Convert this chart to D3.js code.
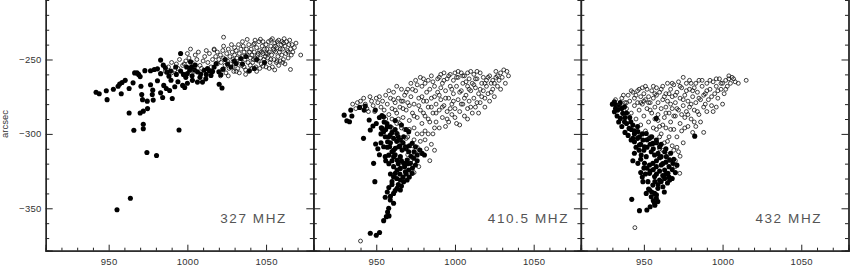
<!DOCTYPE html>
<html>
<head>
<meta charset="utf-8">
<script src="https://cdn.jsdelivr.net/npm/d3@7"></script>
<style>
  body { margin: 0; background: #fff; }
  svg { display: block; }
  text { font-family: "Liberation Sans", Arial, Helvetica, sans-serif; }
</style>
</head>
<body>
<div id="chart"></div>
<script>
// three frequency panels, position of sources (x, y in arcsec)
const panelLabels = ['327 MHZ', '410.5 MHZ', '432 MHZ'];
const xMajor = [950, 1000, 1050];
const xMinor = [920, 930, 940, 960, 970, 980, 990, 1010, 1020, 1030, 1040, 1060, 1070];
const yMajor = [-350, -300, -250];
const yMinor = [-370, -360, -340, -330, -320, -310, -290, -280, -270, -260, -240, -230, -220, -210];
const yLabel = 'arcsec';

// 327 MHz
const filled327 = [[942,-272],[944,-273],[948.5,-271],[949,-277],[953,-270],[956,-268],[957,-266.5],[958.5,-265.5],[960.5,-264],[958,-273],
  [963,-269.5],[965.5,-265.7],[963,-286],[966,-297.5],[966.5,-259],[968,-259],[969,-260],[970,-261.5],[973,-257.5],[970.5,-268],
  [971,-273.5],[971.5,-277],[970,-286],[972,-284.7],[974.7,-283],[974.5,-278],[972,-293.5],[972,-296.5],[974.3,-312.5],[980.4,-314.5],
  [963.8,-343.3],[955.3,-351],[976.6,-267],[978,-270.6],[977.7,-273.5],[978.3,-277.3],[983,-272.4],[984.3,-275.5],[981,-264.3],[979,-256.7],
  [981,-256.3],[983,-250.4],[984.7,-253.8],[986,-255.6],[985,-267.4],[986.6,-269.5],[988.7,-270.8],[990.4,-276.2],[988.3,-261.2],[989.6,-263.9],
  [992,-268.3],[994.7,-297.4],[995.7,-246],[994,-265],[997,-267.4],[998.3,-268.8],[999,-262],[1000,-259.4],[1001.5,-257.2],[1002.6,-255],
  [1005,-253.8],[1006.4,-258.3],[1008.5,-259.8],[1010.6,-257.2],[1012.8,-256],[1015,-260.7],[1017,-255],[1018.3,-252.7],[1006.4,-265.2],[1009.6,-265.2],
  [1011.7,-263],[1014,-257.6],[1020,-258.3],[1021.3,-260.3],[1022,-269.2],[1020.2,-266.6],[1025.5,-253],[1029.8,-251],[1034,-249.3],[1039.4,-257.6],
  [1042.6,-256],[1037.2,-248],[1000,-266],[1003.2,-264],[1002,-251.6],[992.6,-255],[989.4,-257.8],[995.7,-257.8],[976.6,-257.6],[1027.7,-255],
  [1031,-252.7],[997.5,-260],[1003,-261],[1008,-262],[1012,-260],[1016,-258],[999.5,-255],[1004.5,-257],[993,-260],[983,-259.5],
  [987,-258.5],[1022.7,-256.5],[1024,-250],[1035,-253],[1044,-250],[1049,-252]];
const open327 = [[986,-258],[988,-255],[990,-252],[993,-253],[995,-250],[997,-254],[999,-251],[992,-257],[990,-259],[994,-256],
  [998,-253],[1000,-246],[1002,-243],[1001,-249],[1003,-252],[1005,-247],[1006,-250],[1008,-254],[1010,-251],[1011,-248],
  [1013,-252],[1014,-246],[1016,-250],[1017,-243],[1018,-248],[1019,-253],[1020,-250],[1004,-258],[1009,-256],[1015,-255],
  [1012,-244],[1007,-245],[1019,-245],[1023,-235],[1023,-241],[1017,-243.5],
  [1021,-247],[1021.5,-252],[1022,-257],[1022.5,-244],[1023,-249],[1024,-254],[1024.5,-259],[1025,-246],[1025.5,-251],[1026,-243],
  [1026.5,-256],[1027,-248],[1027.5,-253],[1028,-240],[1028.5,-245],[1029,-250],[1029.5,-258],[1030,-247],[1030,-242],[1021,-261],
  [1026,-261],[1029,-255],
  [1030.5,-252],[1031,-244],[1031.5,-249],[1032,-256],[1032.5,-240],[1033,-246],[1033.5,-251],[1034,-243],[1034.5,-254],[1035,-248],
  [1035.5,-241],[1036,-245],[1036.5,-250],[1037,-257],[1037.5,-243],[1038,-247],[1038.5,-252],[1039,-240],[1039.5,-245],[1040,-249],
  [1031,-258],[1033,-259],[1035,-238],[1036,-255],[1038,-236.5],[1040,-254],[1037,-260],[1039,-258],
  [1040.5,-243],[1041,-247],[1041.5,-252],[1042,-240],[1042.5,-245],[1043,-249],[1043.5,-255],[1044,-242],[1044.5,-247],[1045,-251],
  [1045.5,-238],[1046,-244],[1046.5,-249],[1047,-253],[1047.5,-241],[1048,-246],[1048.5,-250],[1049,-243],[1049.5,-248],[1050,-255],
  [1041,-256],[1043,-237],[1044,-258],[1046,-256],[1048,-238],[1050,-240],[1045,-246],[1047,-245],[1042,-250],[1049,-252],
  [1050,-246],[1048,-254.5],[1046.4,-236.4],[1042.6,-239.3],
  [1050.5,-243],[1051,-249],[1051.5,-238],[1052,-245],[1052.5,-252],[1053,-241],[1053.5,-247],[1054,-255],[1054.5,-243],[1055,-250],
  [1055.5,-239],[1056,-245],[1056.5,-252],[1057,-242],[1057.5,-248],[1058,-237],[1058.5,-245],[1059,-251],[1059.5,-240],[1060,-247],
  [1052,-256],[1054,-236],[1056,-241],[1058,-254],[1060,-238],[1051,-246],[1053,-250],[1055,-244],[1057,-238],[1059,-243],
  [1053,-237],[1055.5,-257],[1057,-251],
  [1060.5,-243],[1061,-250],[1061.5,-236],[1062,-241],[1062.5,-246],[1063,-238],[1063.5,-244],[1064,-249],[1064.5,-240],[1065,-237],
  [1065.5,-243],[1066,-247],[1066.5,-240],[1067,-245],[1068,-242],[1069,-239],[1065.5,-256.7],[1072,-247],[1061,-239],[1062,-253],
  [1064,-245],[1060.5,-252]];

// 410.5 MHz
const filled410 = [[929.6,-287.4],[931.3,-291.2],[933,-291.8],[933.8,-284],[934.5,-288],[939.4,-282.2],[943,-281.3],[942.3,-284],[945.5,-290.7],[946.2,-297.4],
  [947.9,-294.7],[941.9,-303],[948.3,-319.8],[949.1,-332.1],[949.6,-306.8],[953.6,-287.6],[954.7,-288.5],[953.2,-295.9],[954.7,-298.5],[955.7,-301.9],
  [957.2,-305.3],[958.9,-300.8],[961,-303],[963.2,-299.7],[965.3,-304.1],[967.4,-301.9],[958.5,-308.6],[960,-312],[962.1,-309.7],[964.3,-308.6],
  [966.4,-310.9],[968.5,-308.6],[970.6,-312],[957.9,-314.3],[961,-315.3],[963.2,-317.6],[965.3,-315.3],[967.4,-319.8],[969.6,-317.6],[971.7,-319.8],
  [973.8,-316.4],[974.9,-320.9],[976,-314.2],[977.7,-310.9],[979.1,-313.1],[980.6,-314.2],[961,-322],[963.2,-324.3],[965.3,-323.2],[968.5,-325.4],
  [970.6,-324.3],[972.8,-326.5],[962.1,-326.5],[965.3,-331],[967.4,-332.1],[969.6,-331],[960,-332.1],[963.2,-336.6],[965.3,-337.7],[961,-340],
  [955.7,-342.6],[958.9,-344.4],[961,-346.6],[957.9,-350],[957.2,-352.5],[956.4,-355.6],[954.7,-358.3],[958.1,-355.1],[946.2,-366.8],[950,-368.1],
  [952.1,-366.3],[956.8,-293],[958.9,-295.2],[953.6,-296.3],[949.4,-284],[954.7,-308.6],[955.7,-315.3],[970.6,-298.5],[972.8,-306.3],[974.9,-308.6],
  [953,-300],[956,-297],[958,-302],[960,-299],[962,-297],[964,-302],[957,-309],[959,-306],[961,-311],[963,-305],
  [965,-308],[967,-306],[969,-310],[971,-308],[956,-318],[958,-320],[960,-318],[962,-314],[964,-320],[966,-318],
  [968,-322],[970,-320],[972,-315],[974,-312],[976,-318],[959,-327],[961,-329],[963,-330],[965,-327],[967,-329],
  [969,-327],[971,-329],[973,-323],[958,-336],[960,-334],[962,-338],[964,-334],[966,-335],[957,-339],[959,-342],
  [953,-306],[951,-310],[952,-314],[952,-289],[955,-292],[957,-295],[950,-293],[962,-291],[966,-294],[969,-297]];
const open410 = [[935,-280],[937,-283],[940,-278],[942,-276],[943,-280],[944,-283],[946,-275],[947,-278],[948,-281],[949,-285],
  [950,-276],[951,-279],[952,-275],[953,-282],[954,-278],[955,-284],[956,-274],[957,-280],[958,-287],[959,-276],
  [960,-283],[960,-290],[961,-272],[962,-279],[963,-268],[963,-286],[964,-276],[965,-282],[965,-293],[966,-270],
  [967,-278],[967,-289],[968,-274],[968,-297],[969,-284],[970,-270],[970,-279],[970,-302],[971,-291],[972,-266],
  [972,-275],[973,-286],[973,-308],[974,-280],[974,-296],[975,-264],[975,-271],[975,-314],[976,-289],[976,-300],
  [977,-276],[977,-322],[978,-284],[978,-305],[979,-268],[979,-293],[980,-263],[980,-278],[981,-288],[981,-298],
  [982,-272],[982,-310],[983,-264],[983,-282],[984,-292],[984,-318],[985,-261],[985,-276],[986,-286],[986,-300],
  [987,-268],[987,-311],[988,-280],[988,-292],[989,-263],[989,-272],[990,-284],[990,-296],[991,-260],[991,-277],
  [992,-266],[992,-289],[993,-259],[993,-281],[994,-271],[994,-295],[995,-263],[995,-285],[996,-276],[996,-292],
  [997,-260],[997,-268],[998,-280],[998,-287],[999,-264],[999,-273],[1000,-259],[1000,-283],[1001,-268],[1001,-293],
  [1002,-262],[1002,-277],[1003,-285],[1003,-294],[1004,-259],[1004,-271],[1005,-266],[1005,-280],[1006,-261],[1006,-288],
  [1007,-274],[1008,-259],[1008,-268],[1008,-283],[1009,-263],[1009,-278],[1010,-258],[1010,-271],[1011,-266],[1011,-286],
  [1012,-260],[1012,-276],[1013,-269],[1013,-282],[1014,-263],[1015,-273],[1015,-286],[1016,-259],[1016,-279],[1017,-266],
  [1018,-262],[1018,-271],[1019,-276],[1019,-282],[1020,-264],[1020,-268],[1021,-273],[1022,-261],[1022,-278],[1023,-266],
  [1024,-270],[1024,-264],[1025,-275],[1026,-262],[1027,-268],[1028,-264],[1029,-270],[1030,-262],[1031,-257],[1032,-266],
  [1034,-261],[1026,-258],[1014,-258],[1002,-258],[984,-270],[978,-262],[966,-278],[956,-290],[960,-296],[963,-300],
  [966,-305],[968,-310],[970,-314],[972,-318],[974,-326],[977,-312],[981,-304],[940,-372],
  [958,-271],[962,-284],[964,-290],[967,-283],[969,-272],[971,-281],[973,-270],[974,-288],[976,-267],[977,-281],
  [979,-275],[980,-286],[981,-266],[982,-278],[983,-290],[985,-282],[986,-265],[987,-275],[988,-286],[990,-262],
  [990,-274],[991,-269],[992,-282],[993,-264],[994,-276],[995,-290],[996,-261],[997,-283],[998,-270],[999,-278],
  [1000,-289],[1001,-262],[1003,-272],[1004,-280],[1005,-261],[1006,-276],[1007,-265],[1008,-290],[1009,-270],[1010,-282],
  [1012,-267],[1013,-263],[1014,-279],[1016,-270],[1017,-275],[1019,-266],[1021,-262],[1023,-272],[1025,-266],[1027,-261],
  [1029,-259],[1033,-258],[961,-277],[963,-293],[966,-296],[969,-303],[971,-297],[974,-304],[976,-309],[979,-300],
  [983,-300],[985,-307],[987,-296],[945,-285],[941,-282],[938,-279]];

// 432 MHz
const filled432 = [[931.3,-278.4],[932.3,-280.6],[934.5,-281.8],[933.4,-284],[931.3,-285.1],[936.6,-286.2],[937.7,-281.8],[935.1,-289.6],[937.7,-291.8],[940.6,-296.3],
  [941.7,-291.8],[943,-294.1],[946.2,-298.5],[941.9,-304.1],[944,-305.3],[947.2,-301.9],[949.4,-304.1],[950.4,-308.6],[947.2,-307.5],[951.5,-299.7],
  [953.6,-303],[955.7,-306.4],[957.9,-304.1],[960,-308.6],[954.7,-312],[956.8,-314.2],[959,-313.1],[961,-315.3],[963.2,-312],[964.3,-315.3],
  [966.4,-317.6],[968.5,-319.8],[951.5,-315.3],[948.3,-314.2],[946.2,-319.8],[950.4,-319.8],[953.6,-320.9],[955.7,-319.8],[957.9,-322],[961,-320.9],
  [963.2,-324.3],[965.3,-326.5],[953.6,-326.5],[956.8,-328.7],[960,-331],[963.2,-329.9],[966.4,-331],[952.6,-332.1],[949.4,-332.1],[955.7,-334.4],
  [958.9,-336.6],[962.1,-335.5],[953.6,-337.7],[956.8,-340],[954.7,-342.2],[957.9,-343.3],[956.8,-346.6],[958.9,-345.5],[951.5,-340],[942.3,-344],
  [947.2,-351.6],[951.9,-351.1],[957.9,-289.6],[982.3,-301.5],
  [933,-288],[936,-283],[938,-289],[939,-293],[942,-297],[944,-300],[946,-303],[948,-307],[950,-311],[952,-309],
  [954,-307],[956,-310],[958,-318],[960,-316],[962,-320],[964,-319],[966,-322],[968,-324],[952,-323],[954,-325],
  [956,-324],[958,-327],[960,-325],[962,-328],[964,-327],[966,-329],[957,-332],[959,-334],[961,-332],[963,-339],
  [953,-337],[955,-339],[958,-341],[956,-345],[957,-348],[944,-298],[946,-295],[949,-300],[952,-304],[955,-302],
  [958,-306],[961,-307],[964,-310],[967,-313],[969,-317],[971,-321],[965,-333],[968,-330],[970,-326],
  [930,-280],[932,-283],[935,-279],[934,-292],[936,-295],[938,-299],[940,-301],[943,-303],[939,-286],[941,-289],
  [945,-309],[947,-311],[944,-313],[948,-317],[943,-318],[950,-323],[951,-327],[948,-326],[949,-329],[954,-349]];
const open432 = [[932,-277],[934,-281],[936,-276],[938,-279],[939,-283],[940,-274],[941,-278],[942,-286],[943,-272],[944,-276],
  [944,-281],[945,-290],[946,-271],[946,-279],[947,-284],[948,-275],[948,-294],[949,-269],[949,-280],[950,-273],
  [950,-288],[951,-277],[951,-298],[952,-270],[952,-283],[953,-275],[953,-292],[954,-279],[954,-302],[955,-271],
  [955,-286],[956,-276],[956,-296],[957,-282],[957,-290],[958,-269],[958,-274],[958,-305],[959,-279],[959,-287],
  [960,-272],[960,-295],[960,-310],[961,-283],[961,-300],[962,-268],[962,-277],[963,-289],[963,-306],[964,-273],
  [964,-282],[964,-296],[965,-266],[965,-278],[965,-314],[966,-286],[966,-302],[967,-270],[967,-292],[968,-275],
  [968,-283],[968,-308],[969,-267],[969,-297],[970,-279],[970,-288],[970,-318],[971,-272],[971,-302],[972,-265],
  [972,-284],[972,-312],[973,-276],[973,-293],[974,-269],[974,-298],[975,-262],[975,-281],[975,-306],[976,-274],
  [976,-289],[977,-266],[977,-285],[978,-278],[978,-295],[979,-270],[979,-282],[980,-266],[980,-290],[981,-275],
  [981,-299],[982,-269],[982,-284],[983,-279],[983,-295],[984,-272],[985,-264],[985,-287],[986,-277],[986,-292],
  [987,-268],[988,-282],[988,-299],[989,-273],[990,-266],[990,-285],[991,-277],[992,-270],[993,-281],[994,-265],
  [995,-273],[996,-268],[997,-276],[998,-263],[999,-270],[1000,-266],[1001,-273],[1002,-264],[1003,-268],[1004,-263],
  [1005,-266],[1006,-262],[1008,-265],[1015,-264],[996,-282],[1000,-280],[972.8,-326.5],[944.3,-363],
  [937,-274],[939,-279],[942,-271],[945,-274],[947,-270],[948,-279],[950,-278],[951,-268],[953,-279],[954,-284],
  [956,-268],[957,-273],[959,-291],[961,-270],[962,-294],[963,-275],[964,-286],[966,-273],[967,-280],[968,-266],
  [969,-288],[970,-274],[971,-283],[973,-268],[974,-287],[975,-277],[976,-296],[977,-271],[978,-287],[979,-264],
  [980,-280],[981,-271],[982,-292],[983,-266],[984,-285],[985,-276],[987,-264],[988,-274],[989,-280],[990,-271],
  [992,-264],[993,-275],[994,-285],[996,-263],[997,-271],[999,-266],[1002,-270],[1004,-261],[1007,-263],[1010,-266],
  [960,-302],[962,-311],[965,-305],[967,-297],[969,-311],[971,-309],[973,-315],[970,-322],[966,-317],[958,-297]];

const filledSets = [filled327, filled410, filled432];
const openSets = [open327, open410, open432];

const W = 850, H = 266;
const left0 = 45.7, pw = 267.6;
const bottom = 250.7;

const svg = d3.select('#chart').append('svg')
  .attr('width', W).attr('height', H);

const x = d3.scaleLinear().domain([910, 1080]).range([0, pw]);
const y = d3.scaleLinear().domain([-378.5, -200]).range([bottom, -14.9]);
const ink = '#222';

panelLabels.forEach((lab, i) => {
  const g = svg.append('g').attr('transform', `translate(${left0 + i * pw},0)`);

  // points first, frame on top
  g.append('g').selectAll('circle')
    .data(filledSets[i])
    .join('circle')
    .attr('cx', d => x(d[0]))
    .attr('cy', d => y(d[1]))
    .attr('r', 2.55)
    .attr('fill', '#000');
  g.append('g').selectAll('circle')
    .data(openSets[i])
    .join('circle')
    .attr('cx', d => x(d[0]))
    .attr('cy', d => y(d[1]))
    .attr('r', 1.95)
    .attr('fill', 'none')
    .attr('stroke', '#111')
    .attr('stroke-width', 0.8);

  // frame axes, ticks pointing inward
  const axes = [
    {ax: d3.axisBottom(x).tickValues(xMajor).tickSize(-6).tickPadding(8).tickFormat(d3.format('d')), t: `translate(0,${bottom})`, labels: true},
    {ax: d3.axisBottom(x).tickValues(xMinor).tickSize(-3).tickFormat(''), t: `translate(0,${bottom})`},
    {ax: d3.axisLeft(y).tickValues(yMajor).tickSize(-7).tickPadding(4).tickFormat(d3.format('d')), t: 'translate(0,0)', labels: i === 0},
    {ax: d3.axisLeft(y).tickValues(yMinor).tickSize(-3.5).tickFormat(''), t: 'translate(0,0)'},
    {ax: d3.axisRight(y).tickValues(yMajor).tickSize(-7).tickFormat(''), t: `translate(${pw},0)`},
    {ax: d3.axisRight(y).tickValues(yMinor).tickSize(-3.5).tickFormat(''), t: `translate(${pw},0)`}
  ];
  axes.forEach(a => {
    const ag = g.append('g').attr('transform', a.t).call(a.ax);
    ag.select('.domain').attr('stroke', ink).attr('stroke-width', 1.3);
    ag.selectAll('.tick line').attr('stroke', ink).attr('stroke-width', 1);
    ag.selectAll('.tick text')
      .attr('fill', '#333')
      .style('font-size', '9.5px')
      .style('letter-spacing', '0.3px')
      .style('display', a.labels ? null : 'none');
  });

  g.append('text')
    .attr('x', 174.5)
    .attr('y', 223)
    .attr('fill', '#555')
    .style('font-size', '13.5px')
    .style('letter-spacing', '1.6px')
    .text(lab);
});

svg.append('text')
  .attr('transform', 'translate(7.5,124) rotate(-90)')
  .attr('text-anchor', 'middle')
  .attr('fill', '#333')
  .style('font-size', '9.5px')
  .text(yLabel);
</script>
</body>
</html>
